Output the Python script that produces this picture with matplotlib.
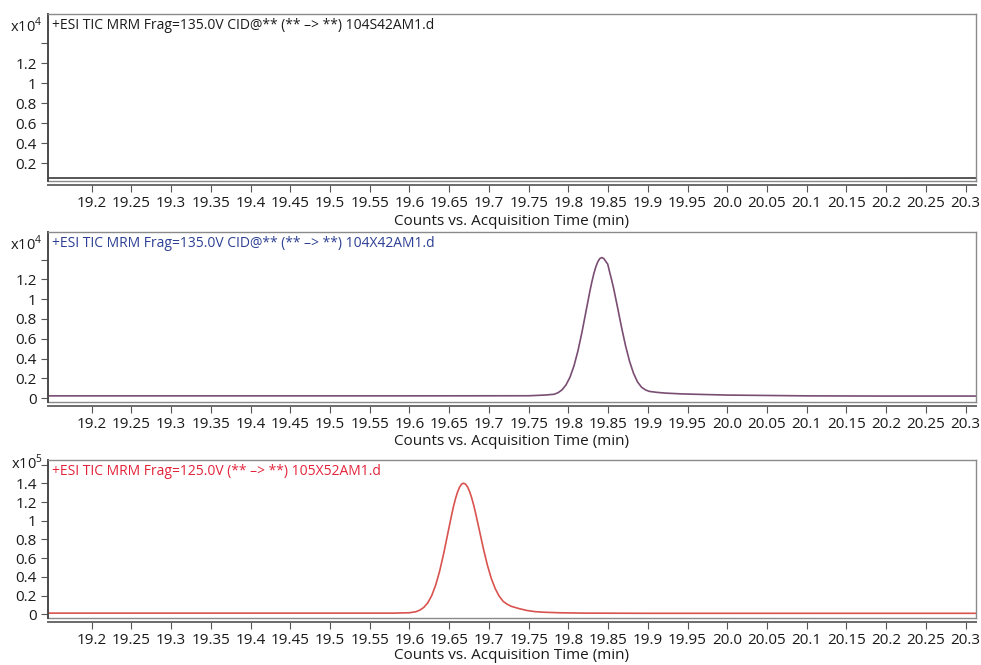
import numpy as np
import matplotlib
matplotlib.use('Agg')
import matplotlib.pyplot as plt
from matplotlib.ticker import FixedLocator, FuncFormatter
from matplotlib.transforms import offset_copy

plt.rcParams['font.family'] = ['Open Sans', 'DejaVu Sans']
plt.rcParams['mathtext.fontset'] = 'custom'
plt.rcParams['mathtext.rm'] = 'Open Sans'

# %% data (y in units of the panel's multiplier)
x_ticks = [19.2, 19.25, 19.3, 19.35, 19.4, 19.45, 19.5, 19.55, 19.6, 19.65, 19.7, 19.75,
           19.8, 19.85, 19.9, 19.95, 20.0, 20.05, 20.1, 20.15, 20.2, 20.25, 20.3]
x_labels = ['19.2', '19.25', '19.3', '19.35', '19.4', '19.45', '19.5', '19.55', '19.6', '19.65',
            '19.7', '19.75', '19.8', '19.85', '19.9', '19.95', '20.0', '20.05', '20.1', '20.15',
            '20.2', '20.25', '20.3']

titles = ['+ESI TIC MRM Frag=135.0V CID@** (** \u2013> **) 104S42AM1.d',
          '+ESI TIC MRM Frag=135.0V CID@** (** \u2013> **) 104X42AM1.d',
          '+ESI TIC MRM Frag=125.0V (** \u2013> **) 105X52AM1.d']
multipliers = ['x10$^4$', 'x10$^4$', 'x10$^5$']

# panel 1: 104S42AM1.d (flat)
t1 = [19.145, 19.3, 19.5, 19.7, 19.9, 20.1, 20.313]
y1 = [0.050, 0.050, 0.049, 0.050, 0.050, 0.049, 0.050]

# panel 2: 104X42AM1.d
t2 = [19.145, 19.4, 19.6, 19.75, 19.77, 19.782, 19.787, 19.792, 19.797, 19.802, 19.807,
      19.812, 19.817, 19.822, 19.827, 19.8295, 19.832, 19.8345, 19.837, 19.8395, 19.842,
      19.8445, 19.847, 19.8495, 19.852, 19.8545, 19.857,
      19.862, 19.867, 19.872, 19.877, 19.882, 19.887, 19.892, 19.897, 19.902, 19.912,
      19.922, 19.942, 19.97, 20.0, 20.1, 20.2, 20.313]
y2 = [0.022, 0.022, 0.022, 0.023, 0.030, 0.038, 0.054, 0.083, 0.133, 0.211, 0.325,
      0.477, 0.663, 0.871, 1.079, 1.174, 1.258, 1.327, 1.379, 1.411, 1.422,
      1.412, 1.383, 1.355, 1.272, 1.193, 1.107, 0.912,
      0.711, 0.527, 0.371, 0.250, 0.163, 0.110, 0.082, 0.067, 0.057, 0.050, 0.042,
      0.036, 0.030, 0.022, 0.020, 0.020]

# panel 3: 105X52AM1.d
t3 = [19.145, 19.3, 19.45, 19.58, 19.600, 19.608, 19.613, 19.618, 19.623, 19.628, 19.633,
      19.638, 19.643, 19.648, 19.653, 19.6555, 19.658, 19.6605, 19.663, 19.6655, 19.668,
      19.6705, 19.673, 19.6755, 19.678, 19.6805, 19.683,
      19.688, 19.693, 19.698, 19.703, 19.708, 19.713, 19.718, 19.723, 19.728, 19.738,
      19.748, 19.758, 19.768, 19.788, 19.818, 19.9, 20.0, 20.15, 20.313]
y3 = [0.012, 0.012, 0.012, 0.012, 0.016, 0.027, 0.044, 0.073, 0.122, 0.200, 0.313,
      0.463, 0.648, 0.855, 1.061, 1.156, 1.239, 1.307, 1.359, 1.391, 1.402,
      1.392, 1.363, 1.316, 1.253, 1.177, 1.089, 0.896,
      0.702, 0.527, 0.382, 0.272, 0.192, 0.137, 0.107, 0.085, 0.060, 0.040, 0.028,
      0.022, 0.016, 0.012, 0.010, 0.010, 0.010, 0.010]

series_t = [t1, t2, t3]
series_y = [y1, y2, y3]
line_colors = ['#3a3a3a', '#7a4d72', '#d9534f']
title_colors = ['#1a1a1a', '#2c3f94', '#e3233a']
y_ticks = [[0, 0.2, 0.4, 0.6, 0.8, 1, 1.2, 1.4],
           [0, 0.2, 0.4, 0.6, 0.8, 1, 1.2, 1.4],
           [0, 0.2, 0.4, 0.6, 0.8, 1, 1.2, 1.4, 1.6]]
y_hidden = [[0, 1.4], [1.4], [1.6]]
y_lims = [(0.02, 1.69), (-0.04, 1.68), (-0.04, 1.65)]
mult_drop = [12, 12, 3]   # px below axes top for the multiplier label
label_pads = [2, 1, 0]

# %% layout (figure fractions)
boxes = [(0.0489, 0.7278, 0.9460, 0.2511),
         (0.0489, 0.3955, 0.9460, 0.2556),
         (0.0489, 0.0707, 0.9460, 0.2376)]

fig = plt.figure(figsize=(9.81, 6.65), dpi=100)
for i in range(3):
    ax = fig.add_axes(boxes[i])
    ax.plot(series_t[i], series_y[i], color=line_colors[i], lw=1.2)
    ax.set_xlim(19.145, 20.313)
    ax.set_ylim(*y_lims[i])

    ax.xaxis.set_major_locator(FixedLocator(x_ticks))
    ax.set_xticklabels(x_labels)
    ax.yaxis.set_major_locator(FixedLocator(y_ticks[i]))
    hidden = y_hidden[i]
    ax.yaxis.set_major_formatter(FuncFormatter(
        lambda v, p, hidden=hidden: '' if any(abs(v - h) < 1e-9 for h in hidden) else '%g' % v))
    ax.tick_params(axis='both', direction='out', length=5, width=0.8, color='#555555',
                   labelsize=11, labelcolor='#1a1a1a', pad=3)

    for s in ['top', 'right']:
        ax.spines[s].set_color('#8a8a8a')
        ax.spines[s].set_linewidth(1.0)
    ax.spines['left'].set_color('#4a4a4a')
    ax.spines['left'].set_linewidth(1.4)
    ax.spines['bottom'].set_position(('outward', 3))
    ax.spines['bottom'].set_color('#6a6a6a')
    ax.spines['bottom'].set_linewidth(1.4)
    # frame bottom line
    ax.plot([0, 1], [0, 0], transform=ax.transAxes, color='#8a8a8a', lw=1.0, clip_on=False)

    ax.set_xlabel('Counts vs. Acquisition Time (min)', fontsize=11, color='#1a1a1a',
                  labelpad=label_pads[i])
    ax.text(0.004, 0.975, titles[i], transform=ax.transAxes, ha='left', va='top',
            fontsize=10, color=title_colors[i])
    tr = offset_copy(ax.transAxes, fig=fig, x=-4, y=-mult_drop[i] * 0.72, units='points')
    ax.text(0, 1, multipliers[i], transform=tr, ha='right', va='center',
            fontsize=10.5, color='#1a1a1a')

plt.savefig('out.png', dpi=100)
